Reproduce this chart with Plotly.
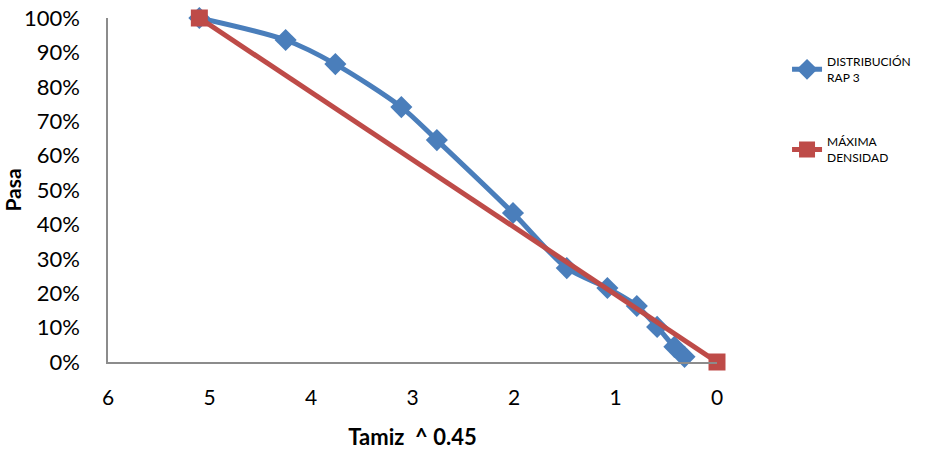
import plotly.graph_objects as go

dist_x = [5.10, 4.25, 3.76, 3.11, 2.76, 2.01, 1.48, 1.08, 0.79, 0.59, 0.42, 0.32]
dist_y = [1.00, 0.936, 0.866, 0.741, 0.645, 0.433, 0.273, 0.215, 0.163, 0.102, 0.044, 0.015]
max_x = [5.10, 0.0]
max_y = [1.00, 0.0]

blue = "#4a7ebb"
red = "#be4b48"
font = "Lato"

fig = go.Figure()
fig.add_trace(go.Scatter(
    x=dist_x, y=dist_y, mode="lines+markers", name="DISTRIBUCIÓN<br>RAP 3",
    line=dict(color=blue, width=5, shape="spline", smoothing=0.8),
    marker=dict(symbol="diamond", size=17, color=blue),
    cliponaxis=False, legendgroup="a"))
fig.add_trace(go.Scatter(
    x=max_x, y=max_y, mode="lines+markers", name="MÁXIMA<br>DENSIDAD",
    line=dict(color=red, width=5),
    marker=dict(symbol="square", size=17, color=red),
    cliponaxis=False, legendgroup="b"))

fig.update_layout(
    width=925, height=451,
    margin=dict(l=108, r=208, t=18, b=89, autoexpand=False),
    paper_bgcolor="white", plot_bgcolor="white",
    font=dict(family=font, color="black"),
    showlegend=True,
    legend=dict(x=1.115, y=0.915, xanchor="left", yanchor="top",
                font=dict(size=12, family=font), tracegroupgap=46,
                bgcolor="rgba(0,0,0,0)"),
    xaxis=dict(range=[6, 0], tickvals=[6, 5, 4, 3, 2, 1, 0], showgrid=False,
               zeroline=False, showline=True, linecolor="#8c8c8c", linewidth=1.5,
               ticks="outside", ticklen=16, tickcolor="rgba(0,0,0,0)",
               tickfont=dict(size=21), automargin=False,
               title=dict(text="<b>Tamiz  ^ 0.45</b>", font=dict(size=22), standoff=22)),
    yaxis=dict(range=[0, 1], tickvals=[i / 10 for i in range(11)], tickformat=".0%",
               showgrid=False, zeroline=False, showline=True, linecolor="#8c8c8c",
               linewidth=1.5, ticks="outside", ticklen=22, tickcolor="rgba(0,0,0,0)",
               tickfont=dict(size=22), automargin=False,
               title=dict(text="<b>Pasa</b>", font=dict(size=21), standoff=0)),
)

fig.write_html("out.html")
